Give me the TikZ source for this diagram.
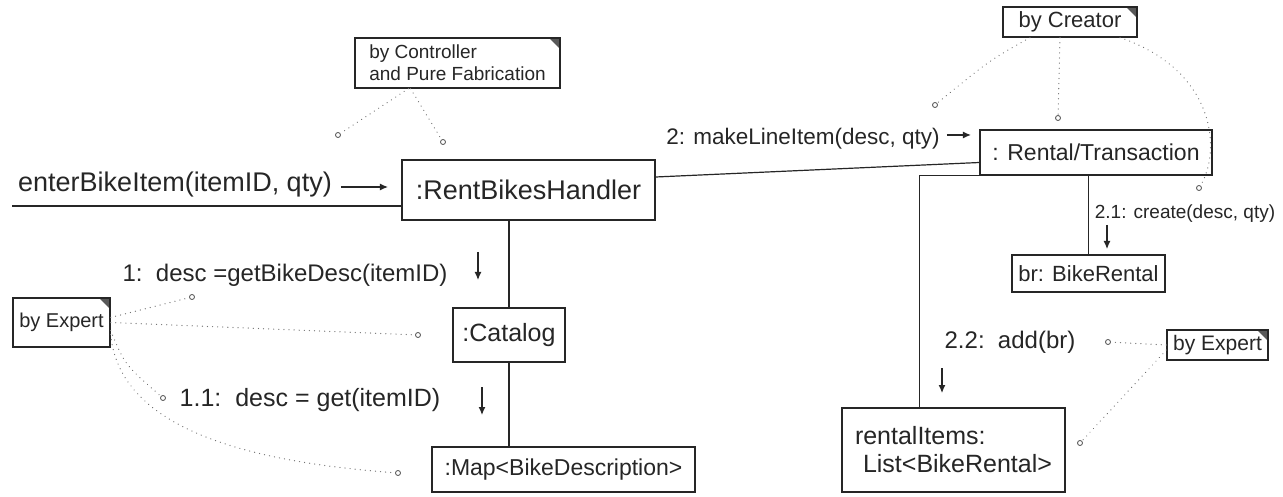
\documentclass[tikz,border=0pt]{standalone}
\usepackage{fontspec}
\setmainfont{Liberation Sans}
\usetikzlibrary{arrows.meta}
\newcommand\hfs[1]{\fontsize{#1}{#1}\selectfont}
\begin{document}
\begin{tikzpicture}[x=1pt,y=-1pt,
 ink/.style={draw=black!85, line width=1.2pt},
 obj/.style={ink, rectangle, inner sep=0pt, align=center, text=black!85},
 note/.style={obj, path picture={\fill[black!65] ([xshift=-11pt]path picture bounding box.north east) -- (path picture bounding box.north east) -- ([yshift=-11pt]path picture bounding box.north east) -- cycle;}},
 lbl/.style={inner sep=0pt, text=black!85},
 msg/.style={draw=black!85, line width=1.2pt, -{Latex[length=8pt,width=7pt]}},
 link/.style={draw=black!85, line width=1.2pt},
 dots/.style={draw=black!55, line width=1.2pt, dash pattern=on 0.1pt off 5pt, line cap=round},
 endo/.style={circle, draw=black!70, line width=0.8pt, fill=white, inner sep=0pt, minimum size=5pt}]

\useasboundingbox[fill=white] (0,0) rectangle (1283,497);

% objects
\node[note, minimum width=205pt, minimum height=50pt, font=\fontsize{19}{22}\selectfont, align=left] (ctrl) at (457.5,63) {by Controller\\and Pure Fabrication};
\node[obj, minimum width=253pt, minimum height=60pt, font=\hfs{27}] (handler) at (528.5,190) {:RentBikesHandler};
\node[obj, minimum width=112pt, minimum height=54pt, font=\hfs{25}] (catalog) at (509,335) {:Catalog};
\node[obj, minimum width=263pt, minimum height=45pt, font=\hfs{23}] (map) at (563.5,469.5) {:Map<BikeDescription>};
\node[obj, minimum width=232pt, minimum height=45pt, font=\hfs{23}] (rental) at (1096,152.5) {: Rental/Transaction};
\node[obj, minimum width=153pt, minimum height=37pt, font=\hfs{22}] (bike) at (1088.5,273.5) {br: BikeRental};
\node[obj, minimum width=223pt, minimum height=84pt, font=\fontsize{25}{28}\selectfont, align=left] (items) at (953.5,450) {rentalItems:\\\hspace*{8pt}List<BikeRental>};
\node[note, minimum width=134pt, minimum height=30pt, font=\hfs{22}] (creator) at (1070,22) {by Creator};
\node[note, minimum width=97pt, minimum height=49pt, font=\hfs{20}] (expL) at (61.5,322.5) {by Expert};
\node[note, minimum width=101pt, minimum height=30pt, font=\hfs{21}] (expR) at (1217.5,345) {by Expert};

% links
\coordinate (inlet) at (12,206);
\draw[link] (inlet) -- (handler.west |- inlet);
\draw[link] ([yshift=13pt]handler.east) -- ([yshift=-10pt]rental.west);
\draw[link] (catalog.north |- handler.south) -- (catalog.north);
\draw[link] (catalog.south) -- (catalog.south |- map.north);
\draw[link] (rental.south -| bike.north) -- (bike.north);
\draw[link] (rental.south west) -| ([xshift=-34pt]items.north);

% messages
\node[lbl, font=\hfs{27}] (enter) at (175,185) {enterBikeItem(itemID, qty)};
\draw[msg] ([xshift=9pt,yshift=-2pt]enter.east) -- ++(47,0);
\node[lbl, font=\hfs{22.5}] (m2) at (803,139) {2: makeLineItem(desc, qty)};
\draw[msg] ([xshift=7pt,yshift=4pt]m2.east) -- ++(24,0);
\node[lbl, font=\hfs{24}] (m1) at (285,275) {1:\ \ desc =getBikeDesc(itemID)};
\coordinate (a1) at (478,252);
\draw[msg] (a1) -- ++(0,28);
\node[lbl, font=\hfs{25}] (m11) at (310,400) {1.1:\ \ desc = get(itemID)};
\coordinate (a11) at (482,387);
\draw[msg] (a11) -- ++(0,28);
\node[lbl, font=\hfs{19}] (m21) at (1185,214) {2.1: create(desc, qty)};
\coordinate (a21) at (1107,225);
\draw[msg] (a21) -- ++(0,24);
\node[lbl, font=\hfs{24}] (m22) at (1010,342) {2.2:\ \ add(br)};
\coordinate (a22) at (942,368);
\draw[msg] (a22) -- ++(0,25);

% note anchors
\node[endo] (o1) at (338,135) {};
\node[endo] (o2) at (443,142) {};
\draw[dots] ([xshift=-49pt]ctrl.south) -- (o1);
\draw[dots] ([xshift=-47pt]ctrl.south) -- (o2);

\node[endo] (o3) at (935,105) {};
\node[endo] (o4) at (1058,118) {};
\node[endo] (o5) at (1199,188) {};
\draw[dots] ([xshift=-40pt]creator.south) .. controls (990,60) .. (o3);
\draw[dots] ([xshift=-10pt]creator.south) -- (o4);
\draw[dots] ([xshift=50pt]creator.south) .. controls (1215,70) and (1222,150) .. (o5);

\node[endo] (o6) at (192,297) {};
\node[endo] (o7) at (418,335) {};
\node[endo] (o8) at (163,398) {};
\node[endo] (o9) at (398,473) {};
\draw[dots] ([yshift=5pt]expL.east) -- (o6);
\draw[dots] (expL.east) -- (o7);
\draw[dots] ([yshift=-8pt]expL.east) .. controls (125,365) .. (o8);
\draw[dots] ([yshift=-12pt]expL.east) .. controls (120,430) and (250,462) .. (o9);

\node[endo] (o10) at (1108,342) {};
\node[endo] (o11) at (1080,443) {};
\draw[dots] (expR.west) -- (o10);
\draw[dots] ([yshift=-5pt]expR.west) -- (o11);
\end{tikzpicture}
\end{document}
